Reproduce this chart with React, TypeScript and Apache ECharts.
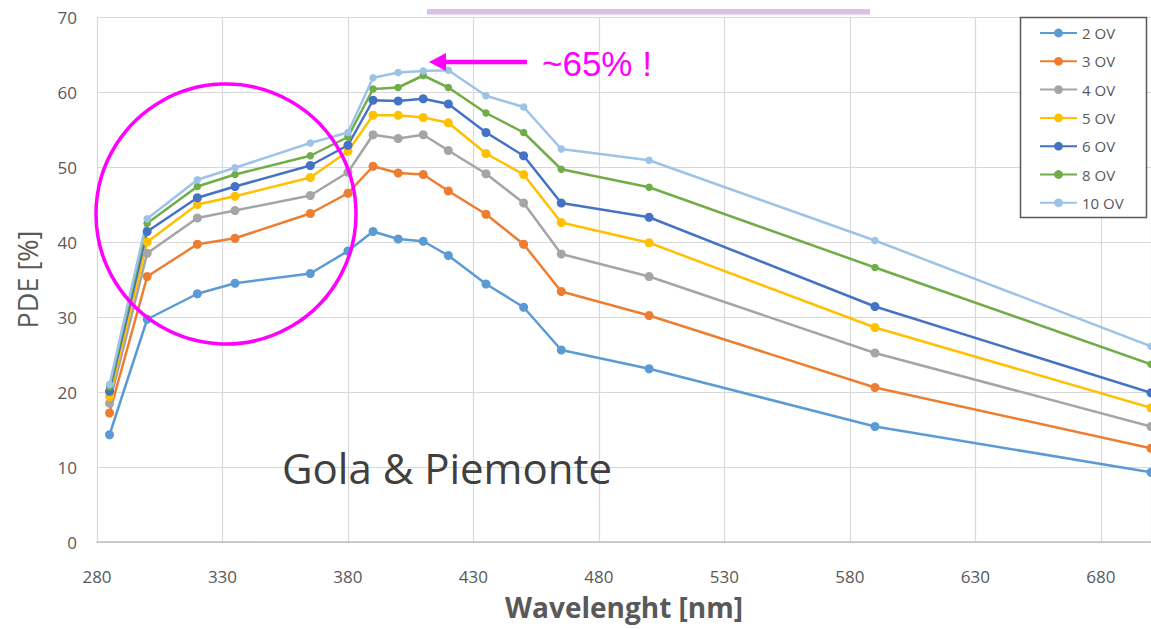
import React, { useEffect, useRef } from "react";
import * as echarts from "echarts";

const wavelengths = [285, 300, 320, 335, 365, 380, 390, 400, 410, 420, 435, 450, 465, 500, 590, 700];
const seriesNames = ["2 OV", "3 OV", "4 OV", "5 OV", "6 OV", "8 OV", "10 OV"];
const pde2 = [14.3, 29.7, 33.1, 34.5, 35.8, 38.8, 41.4, 40.4, 40.1, 38.2, 34.4, 31.3, 25.6, 23.1, 15.4, 9.3];
const pde3 = [17.2, 35.4, 39.7, 40.5, 43.8, 46.5, 50.1, 49.2, 49.0, 46.8, 43.7, 39.7, 33.4, 30.2, 20.6, 12.5];
const pde4 = [18.5, 38.5, 43.2, 44.2, 46.2, 49.3, 54.3, 53.8, 54.3, 52.2, 49.1, 45.2, 38.4, 35.4, 25.2, 15.4];
const pde5 = [19.4, 40.0, 45.0, 46.1, 48.6, 52.1, 56.9, 56.9, 56.6, 55.9, 51.8, 49.0, 42.6, 39.9, 28.6, 17.9];
const pde6 = [20.1, 41.4, 45.9, 47.4, 50.2, 52.9, 58.9, 58.8, 59.1, 58.4, 54.6, 51.5, 45.2, 43.3, 31.4, 19.9];
const pde8 = [20.7, 42.5, 47.4, 49.0, 51.5, 54.0, 60.4, 60.6, 62.2, 60.6, 57.2, 54.6, 49.7, 47.3, 36.6, 23.7];
const pde10 = [21.0, 43.1, 48.3, 49.9, 53.2, 54.6, 61.9, 62.6, 62.8, 62.9, 59.5, 58.0, 52.4, 50.9, 40.2, 26.1];
const allValues = [pde2, pde3, pde4, pde5, pde6, pde8, pde10];
const colors = ["#5B9BD5", "#ED7D31", "#A5A5A5", "#FFC000", "#4472C4", "#70AD47", "#9DC3E6"];
const symbolSizes = [9, 9, 9, 9, 9, 7.5, 7.5];

export default function App() {
  const ref = useRef<HTMLDivElement>(null);
  useEffect(() => {
    if (!ref.current) return;
    const chart = echarts.init(ref.current, null, { renderer: "svg" });
    const grey = "#595959";
    chart.setOption({
      animation: false,
      backgroundColor: "#ffffff",
      grid: { left: 97, top: 17, right: 0, bottom: 87 },
      xAxis: {
        type: "value",
        min: 280,
        max: 700,
        interval: 50,
        name: "Wavelenght [nm]",
        nameLocation: "middle",
        nameGap: 51,
        nameTextStyle: { fontFamily: "Open Sans", fontWeight: "bold", fontSize: 28, color: grey },
        axisLine: { show: true, lineStyle: { color: "#BFBFBF", width: 1.5 } },
        axisTick: { show: false },
        axisLabel: { showMaxLabel: false, margin: 26, fontFamily: "Open Sans", fontSize: 17, color: grey },
        splitLine: { show: true, lineStyle: { color: "#D9D9D9", width: 1.2 } },
      },
      yAxis: {
        type: "value",
        min: 0,
        max: 70,
        interval: 10,
        name: "PDE [%]",
        nameLocation: "middle",
        nameGap: 56,
        nameTextStyle: { fontFamily: "Open Sans", fontSize: 27, color: grey },
        axisLine: { show: true, lineStyle: { color: "#D9D9D9", width: 1 } },
        axisTick: { show: false },
        axisLabel: { margin: 20, fontFamily: "Open Sans", fontSize: 17, color: grey },
        splitLine: { show: true, lineStyle: { color: "#D9D9D9", width: 1.2 } },
      },
      legend: {
        orient: "vertical",
        left: 1020,
        top: 17,
        padding: [8.5, 0, 0, 19],
        itemWidth: 37,
        itemHeight: 11,
        itemGap: 13.3,
        z: 10,
        data: seriesNames,
        textStyle: { fontFamily: "Open Sans", fontSize: 15, color: grey },
      },
      graphic: [
        {
          type: "rect",
          z: 5,
          shape: { x: 1020.5, y: 17.5, width: 126, height: 200 },
          style: { fill: "#ffffff", stroke: "#595959", lineWidth: 1.5 },
        },
        {
          type: "rect",
          z: 5,
          shape: { x: 427, y: 9, width: 443, height: 5.5 },
          style: { fill: "#D8C0E8" },
        },
        {
          type: "circle",
          z: 20,
          shape: { cx: 226, cy: 214, r: 130 },
          style: { fill: "none", stroke: "#FF00FF", lineWidth: 3.5 },
        },
        {
          type: "line",
          z: 20,
          shape: { x1: 442, y1: 62, x2: 527, y2: 62 },
          style: { stroke: "#FF00FF", lineWidth: 4.5 },
        },
        {
          type: "polygon",
          z: 20,
          shape: { points: [[429, 62], [446, 53], [446, 71]] },
          style: { fill: "#FF00FF" },
        },
        {
          type: "text",
          z: 20,
          x: 542,
          y: 63,
          style: {
            text: "~65% !",
            fill: "#FF00FF",
            font: "35px 'Liberation Sans', Arial, sans-serif",
            textVerticalAlign: "middle",
            verticalAlign: "middle",
          },
        },
        {
          type: "text",
          z: 20,
          x: 282,
          y: 467,
          style: {
            text: "Gola & Piemonte",
            fill: "#404040",
            font: "42px 'Open Sans', sans-serif",
            verticalAlign: "middle",
            textVerticalAlign: "middle",
          },
        },
      ],
      series: seriesNames.map((name, i) => ({
        name,
        type: "line",
        data: wavelengths.map((w, j) => [w, allValues[i][j]]),
        symbol: "circle",
        symbolSize: symbolSizes[i],
        showSymbol: true,
        clip: false,
        lineStyle: { color: colors[i], width: 2.5 },
        itemStyle: { color: colors[i] },
      })),
    });
    return () => chart.dispose();
  }, []);
  return (
    <div
      ref={ref}
      style={{ position: "absolute", left: 0, top: 0, width: 1151, height: 629, background: "#fff" }}
    />
  );
}
